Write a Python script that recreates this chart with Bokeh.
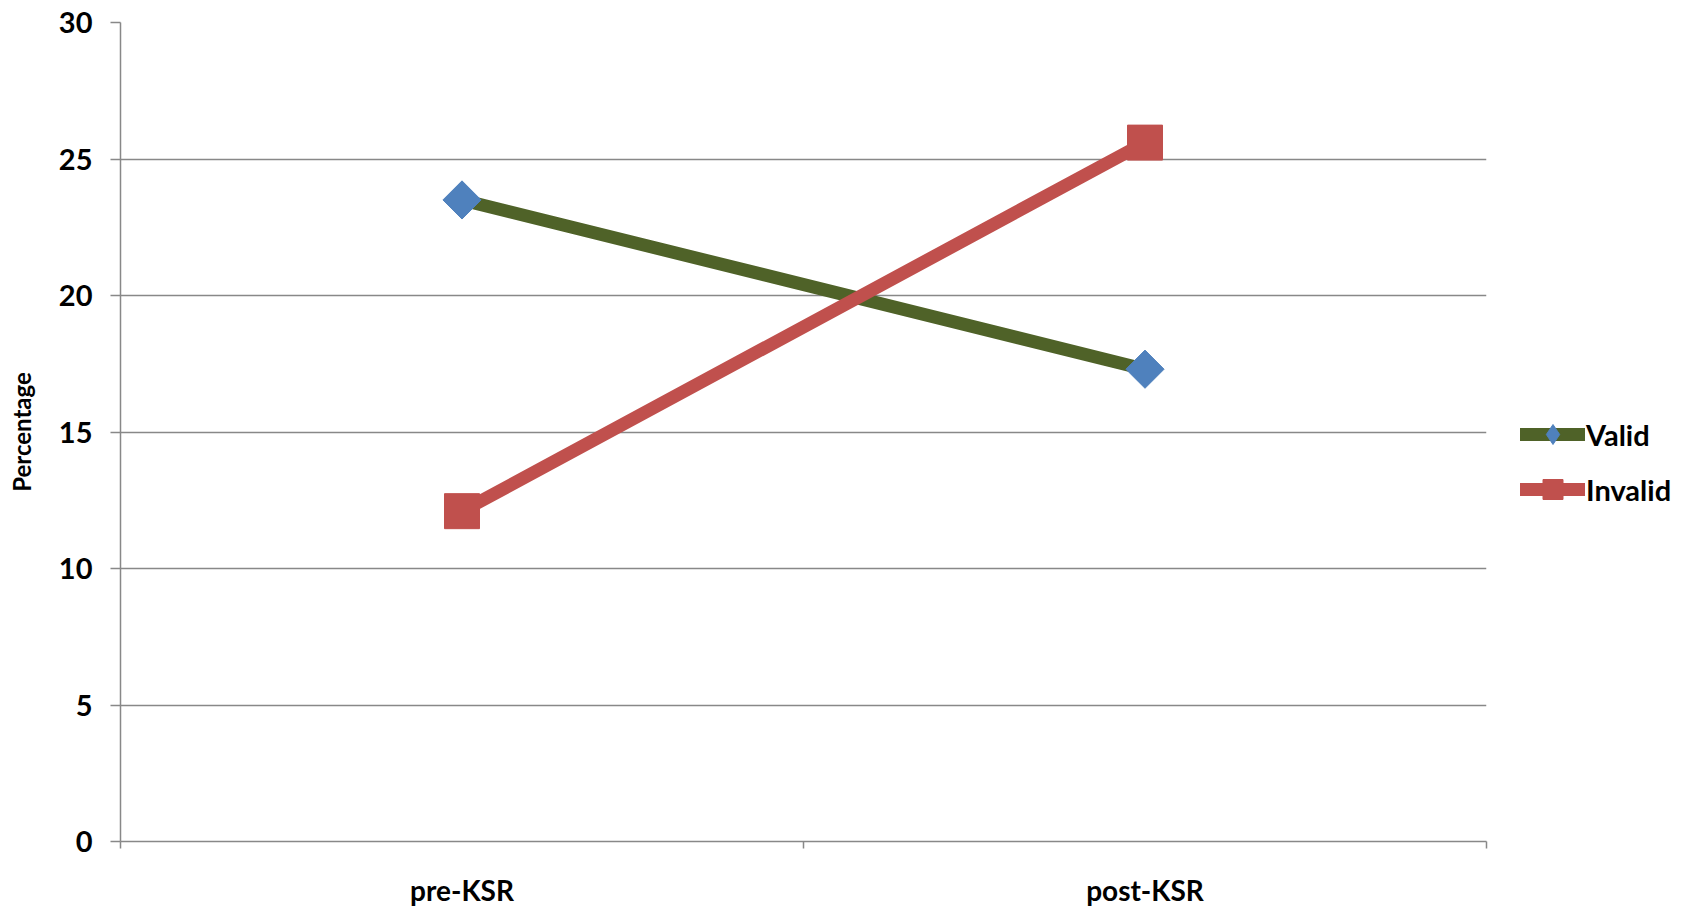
import math
from bokeh.plotting import figure
from bokeh.models import ColumnDataSource, FixedTicker, Legend, LegendItem, Range1d
from bokeh.embed import file_html
from bokeh.resources import INLINE

categories = ["pre-KSR", "post-KSR"]
valid = [23.5, 17.3]
invalid = [12.1, 25.6]
y_ticks = [0, 5, 10, 15, 20, 25, 30]

xpos = [i + 0.5 for i in range(len(categories))]
src = ColumnDataSource(dict(x=xpos, valid=valid, invalid=invalid))

FONT = "Lato"
GRAY = "#888888"

p = figure(frame_width=1366, frame_height=819, output_backend="svg", toolbar_location=None,
           x_range=Range1d(0, len(categories)), y_range=Range1d(0, 30),
           min_border_left=120, min_border_right=190, min_border_top=22, min_border_bottom=0)
p.outline_line_color = None
p.background_fill_color = "white"

# axes
p.xaxis.ticker = FixedTicker(ticks=xpos, minor_ticks=list(range(len(categories) + 1)))
p.xaxis.major_label_overrides = {x: c for x, c in zip(xpos, categories)}
p.xaxis.major_tick_out = 0
p.xaxis.major_tick_in = 0
p.xaxis.minor_tick_out = 7
p.xaxis.minor_tick_in = 0
p.xaxis.minor_tick_line_color = GRAY
p.xaxis.axis_line_color = GRAY
p.xaxis.axis_line_width = 1.5
p.xaxis.minor_tick_line_width = 1.5
p.xaxis.major_label_standoff = 24
p.xaxis.major_label_text_font = FONT
p.xaxis.major_label_text_font_style = "bold"
p.xaxis.major_label_text_font_size = "28px"
p.xaxis.major_label_text_color = "black"

p.yaxis.ticker = FixedTicker(ticks=y_ticks)
p.yaxis.minor_tick_line_color = None
p.yaxis.major_tick_out = 10
p.yaxis.major_tick_in = 0
p.yaxis.major_tick_line_color = GRAY
p.yaxis.major_tick_line_width = 1.5
p.yaxis.axis_line_color = GRAY
p.yaxis.axis_line_width = 1.5
p.yaxis.major_label_standoff = 18
p.yaxis.major_label_text_font = FONT
p.yaxis.major_label_text_font_style = "bold"
p.yaxis.major_label_text_font_size = "29px"
p.yaxis.major_label_text_color = "black"
p.yaxis.axis_label = "Percentage"
p.yaxis.axis_label_text_font = FONT
p.yaxis.axis_label_text_font_style = "bold"
p.yaxis.axis_label_text_font_size = "24px"
p.yaxis.axis_label_text_color = "black"
p.yaxis.axis_label_standoff = 20

p.xgrid.grid_line_color = None
p.ygrid.ticker = FixedTicker(ticks=y_ticks)
p.ygrid.grid_line_color = GRAY
p.ygrid.grid_line_width = 1.5

# series
lv = p.line("x", "valid", source=src, line_color="#4F6228", line_width=13, line_cap="round")
# diamond used for the legend swatch (hidden beneath the square diamond in the plot)
mv_leg = p.scatter("x", "valid", source=src, marker="diamond", size=26,
                   fill_color="#4F81BD", line_color="#4F81BD")
mv = p.scatter("x", "valid", source=src, marker="square", angle=math.pi / 4, size=27,
               fill_color="#4F81BD", line_color="#4F81BD")
li = p.line("x", "invalid", source=src, line_color="#C0504D", line_width=13, line_cap="round")
mi = p.scatter("x", "invalid", source=src, marker="square", size=35,
               fill_color="#C0504D", line_color="#C0504D")

legend = Legend(items=[LegendItem(label="Valid", renderers=[lv, mv_leg]),
                       LegendItem(label="Invalid", renderers=[li, mi])],
                location=(34, 327), orientation="vertical",
                label_text_font=FONT, label_text_font_style="bold",
                label_text_font_size="29px", label_text_color="black",
                glyph_width=65, glyph_height=50, label_standoff=1, spacing=5,
                padding=0, margin=0, border_line_color=None, background_fill_alpha=0)
p.add_layout(legend, "right")

open("out.html", "w").write(file_html(p, INLINE))
